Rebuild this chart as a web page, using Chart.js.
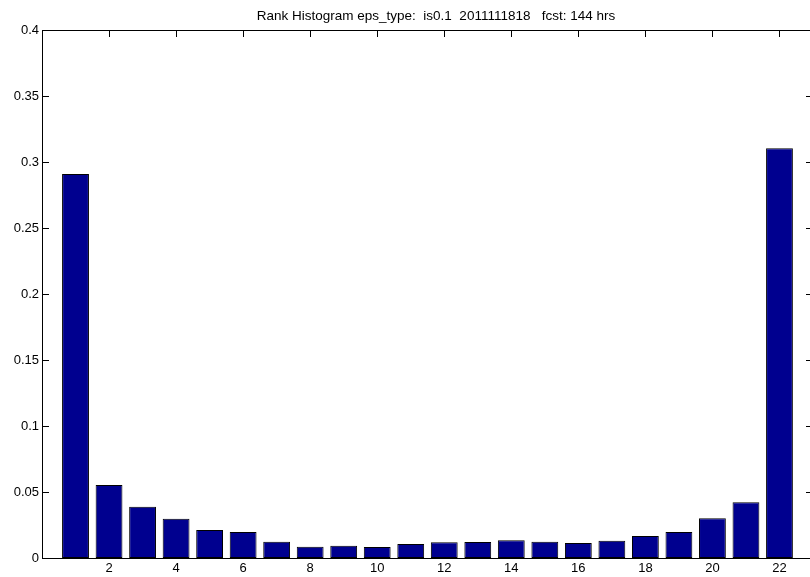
<!DOCTYPE html>
<html>
<head>
<meta charset="utf-8">
<script src="https://cdn.jsdelivr.net/npm/chart.js@4/dist/chart.umd.min.js"></script>
<style>
  html, body { margin: 0; padding: 0; background: #fff; overflow: hidden; }
  #wrap { width: 813px; height: 577px; }
</style>
</head>
<body>
<div id="wrap"><canvas id="rankChart"></canvas></div>
<script>

// data
const ranks = [1, 2, 3, 4, 5, 6, 7, 8, 9, 10, 11, 12, 13, 14, 15, 16, 17, 18, 19, 20, 21, 22];
const freq = [0.291, 0.0553, 0.0389, 0.0298, 0.0212, 0.0197, 0.0124, 0.0086, 0.0093, 0.0083, 0.0106,
              0.0119, 0.0121, 0.0134, 0.0124, 0.0114, 0.0131, 0.0167, 0.0197, 0.0301, 0.0422, 0.3104];
const xTicks = [2, 4, 6, 8, 10, 12, 14, 16, 18, 20, 22];
const yTicks = [0, 0.05, 0.1, 0.15, 0.2, 0.25, 0.3, 0.35, 0.4];
const titleText = "Rank Histogram eps_type:  is0.1  2011111818   fcst: 144 hrs";

const FONT = "Liberation Sans, Arial, Helvetica, sans-serif";

// matlab style box with inward ticks
const axesBox = {
  id: "axesBox",
  beforeDatasetsDraw(chart) {
    const { ctx, chartArea: a, scales } = chart;
    const len = 7;
    ctx.save();
    ctx.strokeStyle = "#000";
    ctx.lineWidth = 1;
    ctx.beginPath();
    xTicks.forEach(v => {
      const x = Math.round(scales.x.getPixelForValue(v)) + 0.5;
      ctx.moveTo(x, a.bottom); ctx.lineTo(x, a.bottom - len);
      ctx.moveTo(x, a.top); ctx.lineTo(x, a.top + len);
    });
    yTicks.forEach(v => {
      const y = Math.round(scales.y.getPixelForValue(v)) + 0.5;
      ctx.moveTo(a.left, y); ctx.lineTo(a.left + len, y);
      ctx.moveTo(a.right, y); ctx.lineTo(a.right - len, y);
    });
    ctx.stroke();
    ctx.restore();
  },
  afterDatasetsDraw(chart) {
    const { ctx, chartArea: a } = chart;
    ctx.save();
    ctx.strokeStyle = "#000";
    ctx.lineWidth = 1;
    ctx.strokeRect(Math.round(a.left) + 0.5, Math.round(a.top) + 0.5,
                   Math.round(a.right - a.left), Math.round(a.bottom - a.top));
    ctx.fillStyle = "#000";
    ctx.font = "13.5px " + FONT;
    ctx.textAlign = "center";
    ctx.textBaseline = "alphabetic";
    ctx.fillText(titleText, 436, 19.5);
    ctx.restore();
  }
};

const chart = new Chart(document.getElementById("rankChart"), {
  type: "bar",
  data: {
    datasets: [{
      data: ranks.map((r, i) => ({ x: r, y: freq[i] })),
      backgroundColor: "#00008F",
      borderColor: "#000",
      borderWidth: 1,
      borderSkipped: false,
      barPercentage: 0.8,
      categoryPercentage: 1
    }]
  },
  options: {
    responsive: true,
    maintainAspectRatio: false,
    animation: false,
    layout: { padding: { top: 30, right: 0, left: 0, bottom: 0 } },
    plugins: {
      legend: { display: false },
      title: { display: false },
      tooltip: { enabled: false }
    },
    scales: {
      x: {
        type: "linear",
        min: 0,
        max: 23,
        offset: false,
        grid: { display: false, drawTicks: false },
        border: { display: false },
        afterBuildTicks: s => { s.ticks = xTicks.map(v => ({ value: v })); },
        afterFit: s => { s.height = 19; },
        ticks: {
          color: "#000",
          padding: 3,
          maxRotation: 0,
          font: { family: FONT, size: 13 },
          callback: v => String(v)
        }
      },
      y: {
        min: 0,
        max: 0.4,
        grid: { display: false, drawTicks: false },
        border: { display: false },
        afterBuildTicks: s => { s.ticks = yTicks.map(v => ({ value: v })); },
        afterFit: s => { s.width = 42; },
        ticks: {
          color: "#000",
          padding: 3,
          font: { family: FONT, size: 13 },
          callback: v => String(+v.toFixed(2))
        }
      }
    }
  },
  plugins: [axesBox]
});

</script>
</body>
</html>
